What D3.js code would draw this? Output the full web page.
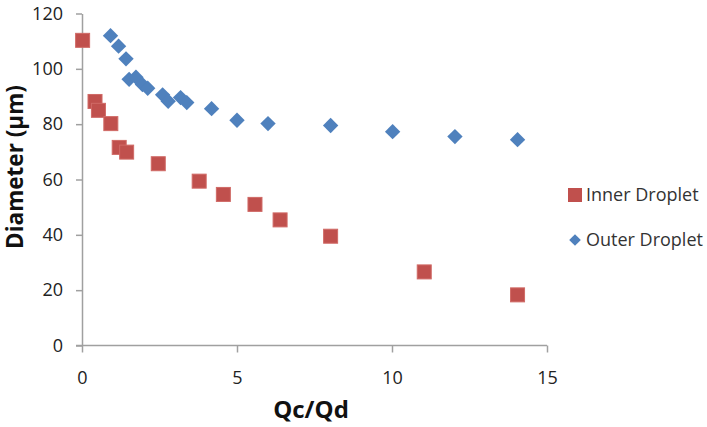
<!DOCTYPE html>
<html><head><meta charset="utf-8">
<script src="https://cdn.jsdelivr.net/npm/d3@7"></script>
<style>body{margin:0;background:#fff}svg{display:block}</style>
</head><body>
<script>
const innerX = [0.02, 0.42, 0.53, 0.93, 1.2, 1.44, 2.46, 3.78, 4.56, 5.58, 6.39, 8.02, 11.04, 14.05];
const innerY = [110.3, 88.2, 85.0, 80.2, 71.6, 69.9, 65.7, 59.4, 54.6, 51.0, 45.4, 39.5, 26.6, 18.3];
const outerX = [0.92, 1.18, 1.42, 1.52, 1.74, 1.95, 2.12, 2.6, 2.78, 3.18, 3.38, 4.18, 5.0, 6.0, 8.02, 10.02, 12.03, 14.05];
const outerY = [112.0, 108.2, 103.6, 96.2, 97.0, 94.3, 93.0, 90.6, 88.3, 89.6, 87.8, 85.6, 81.4, 80.2, 79.5, 77.3, 75.5, 74.4];
const xTicks = [0, 5, 10, 15];
const yTicks = [0, 20, 40, 60, 80, 100, 120];
const seriesNames = ["Inner Droplet", "Outer Droplet"];

const W = 707, H = 427;
const svg = d3.select("body").append("svg").attr("width", W).attr("height", H);
const font = "'Open Sans', 'Liberation Sans', sans-serif";
const x = d3.scaleLinear().domain([0, 15]).range([82, 547]);
const y = d3.scaleLinear().domain([0, 120]).range([345.5, 13.5]);
const axisColor = "#a0a0a0";

const gx = svg.append("g").attr("transform", `translate(0,${y(0)})`)
  .call(d3.axisBottom(x).tickValues(xTicks).tickSize(7).tickSizeOuter(0).tickPadding(19));
const gy = svg.append("g").attr("transform", `translate(${x(0)},0)`)
  .call(d3.axisLeft(y).tickValues(yTicks).tickSize(6).tickSizeOuter(0).tickPadding(13));
[gx, gy].forEach(g => {
  g.select(".domain").attr("stroke", axisColor).attr("stroke-width", 1.5);
  g.selectAll(".tick line").attr("stroke", axisColor).attr("stroke-width", 1.5);
  g.selectAll(".tick text").attr("fill", "#222").style("font-family", font).style("font-size", "18px");
});
gx.select(".domain").attr("d", `M${x(0) - 6},0H${x(15)}`);

const red = "#C0504D", blue = "#4F81BD";
const sq = 14;
svg.append("g").selectAll("rect").data(innerX.map((v, i) => [v, innerY[i]])).join("rect")
  .attr("x", d => x(d[0]) - sq / 2).attr("y", d => y(d[1]) - sq / 2)
  .attr("width", sq).attr("height", sq).attr("fill", red)
  .attr("stroke", "#d06a66").attr("stroke-width", 1);
const dia = d3.symbol().type(d3.symbolSquare).size(118);
svg.append("g").selectAll("path").data(outerX.map((v, i) => [v, outerY[i]])).join("path")
  .attr("d", dia).attr("transform", d => `translate(${x(d[0])},${y(d[1])}) rotate(45)`)
  .attr("fill", blue);

// axis titles
svg.append("text").attr("x", 311).attr("y", 418).attr("text-anchor", "middle")
  .style("font-family", font).style("font-weight", "bold").style("font-size", "24px").attr("fill", "#111").text("Qc/Qd");
svg.append("text").attr("transform", `translate(23,167) rotate(-90)`).attr("text-anchor", "middle")
  .style("font-family", font).style("font-weight", "bold").style("font-size", "22.5px").attr("fill", "#111").text("Diameter (µm)");

// legend
const lg = svg.append("g");
lg.append("rect").attr("x", 568).attr("y", 188).attr("width", 14).attr("height", 14).attr("fill", red);
lg.append("path").attr("d", d3.symbol().type(d3.symbolSquare).size(68)).attr("transform", "translate(575,240) rotate(45)").attr("fill", blue);
lg.selectAll("text").data(seriesNames).join("text")
  .attr("x", 586).attr("y", (d, i) => 201 + i * 45)
  .style("font-family", font).style("font-size", "18px").attr("fill", "#333").text(d => d);
</script>
</body></html>
